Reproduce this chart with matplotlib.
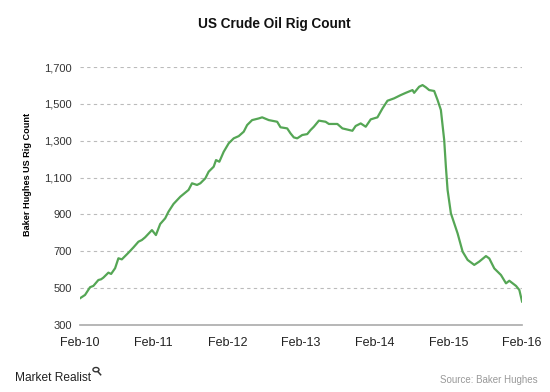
import numpy as np
import pandas as pd
import matplotlib
matplotlib.use("Agg")
import matplotlib.pyplot as plt
from matplotlib.patches import Circle
from matplotlib.lines import Line2D

# --- donnees (annee decimale, nombre de plates-formes) ---
years = [2010.085, 2010.153, 2010.221, 2010.266, 2010.334, 2010.371, 2010.402,
         2010.470, 2010.507, 2010.561, 2010.606, 2010.652, 2010.742, 2010.810,
         2010.878, 2010.924, 2010.969, 2011.061, 2011.115, 2011.173, 2011.241,
         2011.286, 2011.354, 2011.446, 2011.558, 2011.605, 2011.673, 2011.718,
         2011.786, 2011.831, 2011.899, 2011.931, 2011.976, 2012.035, 2012.103,
         2012.171, 2012.239, 2012.307, 2012.353, 2012.421, 2012.511, 2012.557,
         2012.647, 2012.761, 2012.806, 2012.897, 2012.942, 2012.987, 2013.033,
         2013.101, 2013.169, 2013.214, 2013.259, 2013.327, 2013.418, 2013.463,
         2013.578, 2013.646, 2013.782, 2013.826, 2013.895, 2013.963, 2014.031,
         2014.122, 2014.190, 2014.258, 2014.348, 2014.439, 2014.507, 2014.598,
         2014.620, 2014.688, 2014.734, 2014.779, 2014.824, 2014.892, 2014.938,
         2014.983, 2015.028, 2015.051, 2015.074, 2015.119, 2015.164, 2015.210,
         2015.278, 2015.346, 2015.436, 2015.504, 2015.595, 2015.640, 2015.708,
         2015.799, 2015.867, 2015.912, 2016.003, 2016.048, 2016.085]
rigs = [445, 463, 505, 512, 544, 548, 557,
        584, 577, 608, 662, 656, 692, 721,
        752, 761, 776, 815, 788, 848, 879,
        915, 957, 996, 1033, 1069, 1060, 1069,
        1096, 1132, 1159, 1195, 1186, 1240, 1286,
        1313, 1325, 1349, 1385, 1412, 1421, 1427,
        1412, 1403, 1373, 1367, 1340, 1318, 1313,
        1331, 1336, 1358, 1376, 1409, 1403, 1391,
        1391, 1367, 1354, 1380, 1394, 1376, 1416,
        1427, 1475, 1517, 1530, 1548, 1560, 1575,
        1560, 1593, 1602, 1590, 1575, 1570, 1521,
        1467, 1304, 1159, 1033, 906, 852, 797,
        698, 653, 626, 644, 674, 661, 607,
        571, 526, 540, 512, 490, 427]
yticks = [300, 500, 700, 900, 1100, 1300, 1500, 1700]
xtick_years = [2010, 2011, 2012, 2013, 2014, 2015, 2016]


def to_date(y):
    return pd.Timestamp("2010-01-01") + pd.to_timedelta((y - 2010) * 365.25, unit="D")

x = [to_date(y) for y in years]

plt.rcParams['font.family'] = ['Liberation Sans', 'DejaVu Sans']
fig = plt.figure(figsize=(5.5, 3.92), dpi=100)
ax = fig.add_axes([0.1455, 0.171, 0.8035, 0.658])

ax.plot(x, rigs, '-', color='#55a655', lw=1.6, zorder=3)

ax.set_ylim(300, 1700)
ax.set_yticks(yticks)
ax.set_yticklabels(["{:,}".format(v) for v in yticks], fontsize=8, color='#333333')
ax.set_xlim(pd.Timestamp("2010-02-01"), pd.Timestamp("2016-02-01"))
xt = [pd.Timestamp("%d-02-01" % a) for a in xtick_years]
ax.set_xticks(xt)
ax.set_xticklabels(["Feb-%02d" % (a % 100) for a in xtick_years], fontsize=9, color='#222222')
ax.tick_params(length=0, pad=6)
ax.tick_params(axis='x', pad=9)

for v in yticks[1:]:
    ax.axhline(v, color='#bbbbbb', lw=0.8, ls=(0, (3, 3)), zorder=1)
for s in ['top', 'right', 'left']:
    ax.spines[s].set_visible(False)
ax.spines['bottom'].set_color('#aaaaaa')
ax.spines['bottom'].set_linewidth(1.2)

ax.set_ylabel("Baker Hughes US Rig Count", fontsize=6.6, fontweight='bold')
ax.yaxis.set_label_coords(-0.108, 0.582)

fig.text(0.498, 0.94, "US Crude Oil Rig Count", ha='center', va='center',
         fontsize=9.8, fontweight='bold', color='#111111')
fig.text(0.027, 0.035, "Market Realist", ha='left', va='center', fontsize=8.6,
         color='#222222')
# petite loupe du logo
fig.patches.append(Circle((0.1745, 0.057), 0.0055, transform=fig.transFigure,
                          fill=False, ec='#333333', lw=1.0))
fig.lines.append(Line2D([0.178, 0.183], [0.052, 0.044], transform=fig.transFigure,
                        color='#333333', lw=1.1))
fig.text(0.978, 0.030, "Source: Baker Hughes", ha='right', va='center',
         fontsize=7, color='#999999')

plt.savefig("out.png", dpi=100)
